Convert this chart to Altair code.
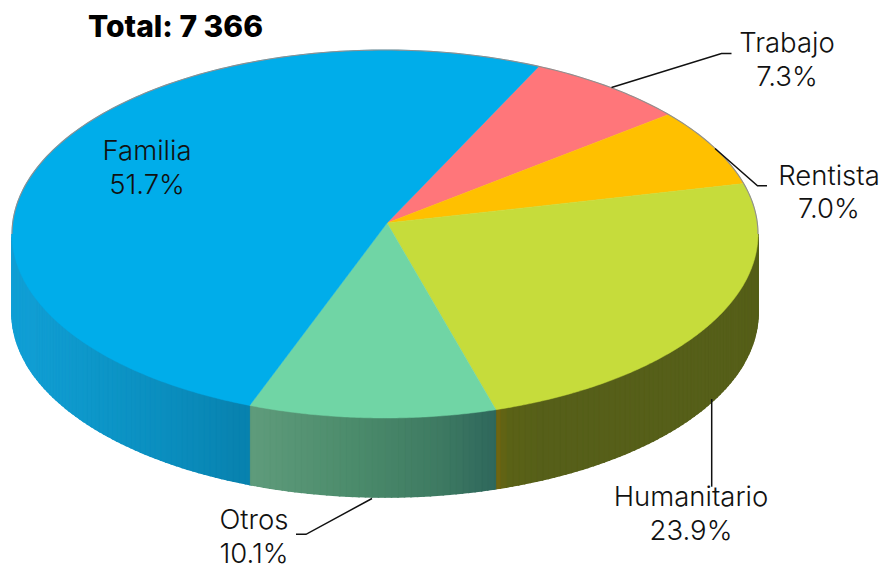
import math
import altair as alt

# ---- data ----
names = ["Trabajo", "Rentista", "Humanitario", "Otros", "Familia"]
shares = [7.3, 7.0, 23.9, 10.1, 51.7]
total_label = "Total: 7 366"
top_colors = ["#FF767A", "#FFC000", "#C6DC3B", "#70D5A5", "#00ADEA"]
# wall shading: (x position, colour) stops, left to right
wall_stops = {
    "Trabajo": [(0, "#a04a4d"), (900, "#a04a4d")],
    "Rentista": [(0, "#a07a00"), (900, "#a07a00")],
    "Humanitario": [(495, "#75660f"), (506, "#5b6216"), (540, "#565f19"), (760, "#565f19")],
    "Otros": [(251, "#5f9c7c"), (350, "#4c8c6c"), (440, "#3e7a62"), (497, "#2e675c")],
    "Familia": [(12, "#12a0d6"), (100, "#0d96c8"), (180, "#0a8cbc"), (251, "#0881ad")],
}
label_rows = [
    ("Familia", 147, 152), ("51.7%", 147, 186),
    ("Trabajo", 787, 44), ("7.3%", 787, 78),
    ("Rentista", 829, 177), ("7.0%", 829, 210),
    ("Humanitario", 691, 498), ("23.9%", 691, 532),
    ("Otros", 254, 521), ("10.1%", 254, 555),
]
leaders = [
    [(611.5, 87.5), (721.5, 53.5), (731.5, 53.5)],
    [(715, 148.5), (757.5, 185.7), (767, 185.7)],
    [(372, 498.5), (306, 534.3), (296, 534.3)],
    [(711.7, 399), (711.7, 486.7)],
]

# ---- layout of the tilted disc, in page pixels ----
OFF = 8
CX, CY, RX, RY, DEPTH = 385, 234, 373, 184, 79
APEX = (387, 223)
START = 26.0
PERSP = complex(-0.0017, 0.03)


def warp(theta_deg):
    """cw angle from the top of the flat pie -> cw angle on the drawn ellipse."""
    th = math.radians(theta_deg)
    z = complex(math.sin(th), math.cos(th))
    w = (z + PERSP) / (1 + PERSP.conjugate() * z)
    return math.degrees(math.atan2(w.real, w.imag)) % 360


def rim(t_deg, dy=0.0):
    t = math.radians(t_deg)
    return [CX + RX * math.sin(t) - OFF, CY - RY * math.cos(t) + dy - OFF]


def hex2rgb(h):
    return [int(h[i:i + 2], 16) for i in (1, 3, 5)]


def shade(stops, x):
    if x <= stops[0][0]:
        return stops[0][1]
    for (x0, c0), (x1, c1) in zip(stops, stops[1:]):
        if x <= x1:
            f = (x - x0) / (x1 - x0)
            a, b = hex2rgb(c0), hex2rgb(c1)
            return "#%02x%02x%02x" % tuple(round(p + (q - p) * f) for p, q in zip(a, b))
    return stops[-1][1]


def feature(geom_type, coords, fill="#000000"):
    return {"type": "Feature", "properties": {"fill": fill},
            "geometry": {"type": geom_type, "coordinates": coords}}


# slice limits from the shares
edges = [START]
for s in shares:
    edges.append(edges[-1] + s * 3.6)
limits = []
for lo, hi in zip(edges, edges[1:]):
    a = warp(lo)
    b = warp(hi)
    if b < a:
        b += 360
    limits.append((a, b))

apex = [APEX[0] - OFF, APEX[1] - OFF]
tops = []
for (a, b), c in zip(limits, top_colors):
    n = max(2, int((b - a) * 2))
    ring = [rim(a + (b - a) * i / n) for i in range(n + 1)]
    tops.append(feature("Polygon", [[apex] + ring + [apex]], c))

# wall strips on the visible front half, cut at the slice limits
cuts = [90 + i * 1.0 for i in range(181)]
for a, b in limits:
    for t in (a, b, a + 360, b - 360):
        if 90 < t < 270:
            cuts.append(t)
cuts = sorted(set(cuts))
walls = []
for t0, t1 in zip(cuts, cuts[1:]):
    mid = (t0 + t1) / 2
    name = None
    for nm, (a, b) in zip(names, limits):
        if a <= mid <= b or a <= mid + 360 <= b or a <= mid - 360 <= b:
            name = nm
    x = CX + RX * math.sin(math.radians(mid))
    col = shade(wall_stops[name], x)
    poly = [[rim(t0), rim(t1), rim(t1, DEPTH), rim(t0, DEPTH), rim(t0)]]
    walls.append(feature("Polygon", poly, col))

outline = [feature("LineString", [rim(-90 + i) for i in range(181)])]
leader_features = [feature("LineString", [[x - OFF, y - OFF] for x, y in line]) for line in leaders]


def shapes(features):
    return alt.Data(values=features)


back_layer = alt.Chart(shapes(walls)).mark_geoshape(strokeWidth=1.6).encode(
    fill=alt.Fill("properties.fill:N", scale=None),
    stroke=alt.Stroke("properties.fill:N", scale=None),
)
wall_layer = alt.Chart(shapes(walls)).mark_geoshape(strokeWidth=0.4).encode(
    fill=alt.Fill("properties.fill:N", scale=None),
    stroke=alt.Stroke("properties.fill:N", scale=None),
)
top_layer = alt.Chart(shapes(tops)).mark_geoshape(strokeWidth=0.5).encode(
    fill=alt.Fill("properties.fill:N", scale=None),
    stroke=alt.Stroke("properties.fill:N", scale=None),
)
rim_layer = alt.Chart(shapes(outline)).mark_geoshape(
    filled=False, stroke="#8f8f8f", strokeWidth=1.1
)
leader_layer = alt.Chart(shapes(leader_features)).mark_geoshape(
    filled=False, stroke="#111111", strokeWidth=1.5
)
text_layer = alt.Chart(alt.Data(values=[
    {"t": t, "lon": x - OFF, "lat": y - OFF} for t, x, y in label_rows
])).mark_text(font="Inter", fontSize=27.5, fontWeight=300, color="#111111",
              align="center", baseline="middle").encode(
    longitude="lon:Q", latitude="lat:Q", text="t:N"
)
title_layer = alt.Chart(alt.Data(values=[
    {"t": total_label, "lon": 88 - OFF, "lat": 28 - OFF}
])).mark_text(font="Inter", fontSize=30, fontWeight=800, color="#000000",
              align="left", baseline="middle").encode(
    longitude="lon:Q", latitude="lat:Q", text="t:N"
)

chart = alt.layer(
    back_layer, wall_layer, top_layer, rim_layer, leader_layer, text_layer, title_layer
).project(
    type="identity", scale=1, translate=[0, 0]
).properties(
    width=874, height=563, padding=0, autosize=alt.AutoSizeParams(type="none"),
    background="#ffffff",
).configure_view(stroke=None)

chart.save("out.html", embed_options={"renderer": "svg", "actions": False})
